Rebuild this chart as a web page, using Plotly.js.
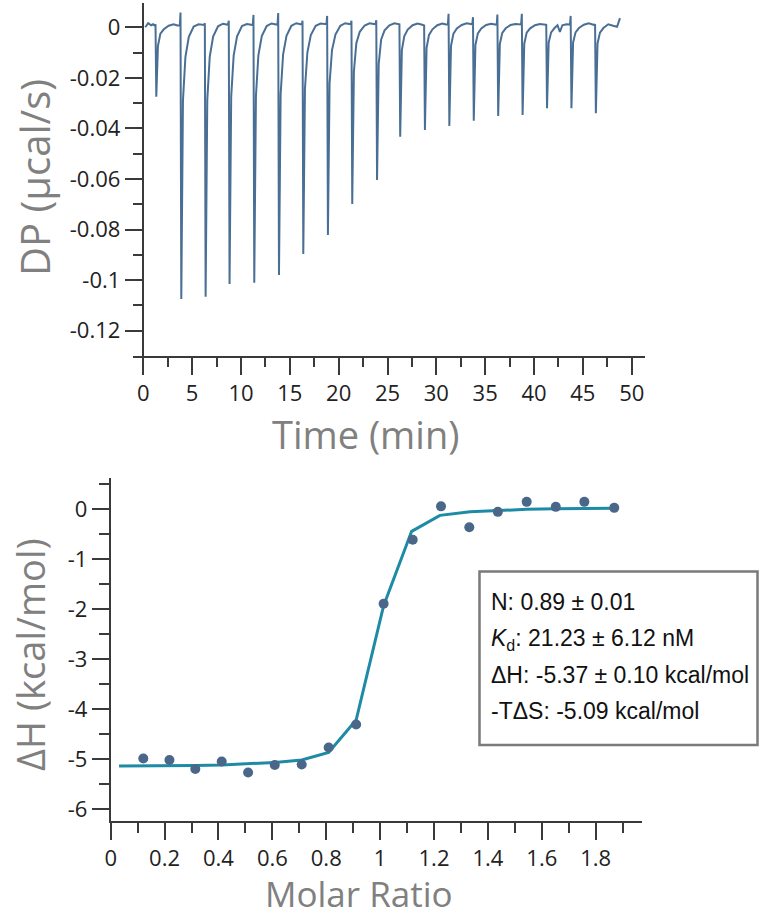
<!DOCTYPE html>
<html><head><meta charset="utf-8">
<script src="https://cdn.plot.ly/plotly-3.0.1.min.js"></script>
<style>html,body{margin:0;padding:0;background:#fff}#chart{width:770px;height:918px}</style>
</head><body><div id="chart"></div>
<script>
// ---- Thermogram (raw DP trace) ----
const dpTime = [
  0.2, 0.5, 0.8, 1.0,
  1.18, 1.25, 1.33, 1.5, 1.75, 2.1, 2.6, 3.1, 3.5,
  3.74, 3.81, 3.89, 4.06, 4.31, 4.66, 5.16, 5.66, 6.06,
  6.23, 6.30, 6.38, 6.55, 6.80, 7.15, 7.65, 8.15, 8.55,
  8.68, 8.75, 8.83, 9.00, 9.25, 9.60, 10.10, 10.60, 11.00,
  11.21, 11.28, 11.36, 11.53, 11.78, 12.13, 12.63, 13.13, 13.53,
  13.74, 13.81, 13.89, 14.06, 14.31, 14.66, 15.16, 15.66, 16.06,
  16.23, 16.30, 16.38, 16.55, 16.80, 17.15, 17.65, 18.15, 18.55,
  18.75, 18.82, 18.90, 19.07, 19.32, 19.67, 20.17, 20.67, 21.07,
  21.24, 21.31, 21.39, 21.56, 21.81, 22.16, 22.66, 23.16, 23.56,
  23.78, 23.85, 23.93, 24.10, 24.35, 24.70, 25.20, 25.70, 26.10,
  26.15, 26.22, 26.30, 26.47, 26.72, 27.07, 27.57, 28.07, 28.47,
  28.68, 28.75, 28.83, 29.00, 29.25, 29.60, 30.10, 30.60, 31.00,
  31.18, 31.25, 31.33, 31.50, 31.75, 32.10, 32.60, 33.10, 33.50,
  33.68, 33.75, 33.83, 34.00, 34.25, 34.60, 35.10, 35.60, 36.00,
  36.18, 36.25, 36.33, 36.50, 36.75, 37.10, 37.60, 38.10, 38.50,
  38.68, 38.75, 38.83, 39.00, 39.25, 39.60, 40.10, 40.60, 41.00,
  41.18, 41.25, 41.33, 41.50, 41.75, 42.10, 42.40, 42.65, 42.90, 43.30,
  43.68, 43.75, 43.83, 44.00, 44.25, 44.60, 45.10, 45.60, 46.00,
  46.18, 46.25, 46.33, 46.50, 46.75, 47.10, 47.60, 48.10, 48.50, 48.80
];
const dpValue = [
  0.0000, 0.0016, 0.0008, 0.0012,
  0.0006, 0.0012, -0.0275, -0.0074, -0.0025, -0.0008, 0.0006, 0.0012, 0.0007,
  0.0008, 0.0058, -0.1075, -0.0290, -0.0118, -0.0038, 0.0003, 0.0012, 0.0008,
  0.0009, 0.0016, -0.1066, -0.0288, -0.0117, -0.0037, 0.0004, 0.0014, 0.0009,
  0.0010, 0.0026, -0.1015, -0.0274, -0.0112, -0.0036, 0.0005, 0.0013, 0.0010,
  0.0009, 0.0049, -0.1010, -0.0273, -0.0111, -0.0035, 0.0005, 0.0015, 0.0010,
  0.0010, 0.0056, -0.0980, -0.0265, -0.0108, -0.0034, 0.0006, 0.0016, 0.0011,
  0.0011, 0.0026, -0.0897, -0.0242, -0.0099, -0.0031, 0.0006, 0.0015, 0.0011,
  0.0012, 0.0045, -0.0822, -0.0222, -0.0090, -0.0029, 0.0006, 0.0016, 0.0011,
  0.0012, 0.0026, -0.0699, -0.0175, -0.0063, -0.0018, 0.0007, 0.0016, 0.0012,
  0.0012, 0.0028, -0.0604, -0.0145, -0.0048, -0.0012, 0.0008, 0.0016, 0.0012,
  0.0010, 0.0012, -0.0433, -0.0090, -0.0035, -0.0009, 0.0008, 0.0015, 0.0011,
  0.0010, 0.0007, -0.0406, -0.0081, -0.0030, -0.0008, 0.0008, 0.0015, 0.0011,
  0.0011, 0.0053, -0.0390, -0.0074, -0.0025, -0.0005, 0.0009, 0.0016, 0.0012,
  0.0012, 0.0040, -0.0370, -0.0070, -0.0024, -0.0005, 0.0009, 0.0014, 0.0010,
  0.0010, 0.0050, -0.0351, -0.0066, -0.0022, -0.0004, 0.0009, 0.0013, 0.0010,
  0.0011, 0.0053, -0.0347, -0.0065, -0.0021, -0.0004, 0.0008, 0.0013, 0.0010,
  0.0010, 0.0012, -0.0320, -0.0060, -0.0020, -0.0003, 0.0008, -0.0018, 0.0008, 0.0012,
  0.0011, 0.0045, -0.0320, -0.0060, -0.0020, -0.0003, 0.0010, 0.0016, 0.0010,
  0.0009, 0.0012, -0.0340, -0.0064, -0.0021, -0.0003, 0.0012, 0.0006, 0.0002, 0.0036
];

// ---- Integrated heats and fit ----
const molarRatio = [0.121, 0.218, 0.314, 0.412, 0.510, 0.609, 0.709, 0.809, 0.911, 1.013,
                    1.121, 1.226, 1.331, 1.437, 1.544, 1.652, 1.758, 1.869];
const heatValue  = [-4.99, -5.02, -5.20, -5.05, -5.27, -5.12, -5.11, -4.77, -4.31, -1.89,
                    -0.61, 0.06, -0.36, -0.05, 0.15, 0.05, 0.15, 0.03];
const fitRatio = [0.031, 0.121, 0.218, 0.314, 0.412, 0.510, 0.609, 0.709, 0.809, 0.911, 1.013,
                  1.117, 1.222, 1.334, 1.437, 1.544, 1.652, 1.758, 1.869];
const fitHeat  = [-5.14, -5.14, -5.14, -5.13, -5.12, -5.10, -5.07, -5.02, -4.87, -4.22, -1.93,
                  -0.44, -0.12, -0.05, -0.02, 0.00, 0.01, 0.02, 0.02];

// ---- Ticks ----
const timeTicks = [0, 5, 10, 15, 20, 25, 30, 35, 40, 45, 50];
const timeTickText = ['0', '5', '10', '15', '20', '25', '30', '35', '40', '45', '50'];
const dpTicks = [0, -0.02, -0.04, -0.06, -0.08, -0.1, -0.12];
const dpTickText = ['0', '-0.02', '-0.04', '-0.06', '-0.08', '-0.1', '-0.12'];
const ratioTicks = [0, 0.2, 0.4, 0.6, 0.8, 1, 1.2, 1.4, 1.6, 1.8];
const ratioTickText = ['0', '0.2', '0.4', '0.6', '0.8', '1', '1.2', '1.4', '1.6', '1.8'];
const heatTicks = [0, -1, -2, -3, -4, -5, -6];
const heatTickText = ['0', '-1', '-2', '-3', '-4', '-5', '-6'];

// ---- Texts ----
const titleTime = 'Time (min)';
const titleDP = 'DP (µcal/s)';
const titleRatio = 'Molar Ratio';
const titleDH = 'ΔH (kcal/mol)';
const fitLines = ['N: 0.89 ± 0.01',
                  '<i>K</i><sub>d</sub>: 21.23 ± 6.12 nM',
                  'ΔH: -5.37 ± 0.10 kcal/mol',
                  '-TΔS: -5.09 kcal/mol'];

const W = 770, H = 918;
const fx = p => p / W, fy = p => 1 - p / H;
const AX = '#3a3a3a';
const tickFont = {family: 'Open Sans, Noto Sans, sans-serif', size: 22, color: '#222'};
const titleFont = {family: 'Open Sans, Noto Sans, sans-serif', size: 38, color: '#808080'};

function axisBase(extra) {
  return Object.assign({
    showgrid: false, zeroline: false, showline: true, linecolor: AX, linewidth: 2,
    ticks: 'outside', ticklen: 17, tickwidth: 2, tickcolor: AX,
    tickfont: tickFont, automargin: false, fixedrange: true, tickmode: 'array'
  }, extra);
}

const traces = [
  {x: dpTime, y: dpValue, xaxis: 'x', yaxis: 'y', type: 'scatter', mode: 'lines',
   line: {color: '#4a6f95', width: 2}, hoverinfo: 'skip'},
  {x: fitRatio, y: fitHeat, xaxis: 'x2', yaxis: 'y2', type: 'scatter', mode: 'lines',
   line: {color: '#1e8ba6', width: 3}, hoverinfo: 'skip'},
  {x: molarRatio, y: heatValue, xaxis: 'x2', yaxis: 'y2', type: 'scatter', mode: 'markers',
   marker: {color: '#4a6789', size: 10}, hoverinfo: 'skip'}
];

const annotations = [
  {text: titleTime, x: fx(365), y: fy(434), textangle: 0},
  {text: titleDP, x: fx(34), y: fy(178), textangle: -90, font: Object.assign({}, titleFont, {size: 40})},
  {text: titleRatio, x: fx(359), y: 0, yanchor: 'bottom', textangle: 0, borderpad: 0,
   font: Object.assign({}, titleFont, {size: 35})},
  {text: titleDH, x: fx(30), y: fy(655), textangle: -90}
].map(a => Object.assign({xref: 'paper', yref: 'paper', xanchor: 'center', yanchor: 'middle',
  showarrow: false, font: titleFont}, a));

const lineY = [602, 639, 675, 711];
fitLines.forEach((t, i) => annotations.push({
  text: t, xref: 'paper', yref: 'paper', x: fx(489), y: fy(lineY[i]),
  xanchor: 'left', yanchor: 'middle', showarrow: false,
  font: {family: 'Liberation Sans, Arial, sans-serif', size: 23, color: '#111'}
}));

const layout = {
  width: W, height: H, margin: {l: 0, r: 0, t: 0, b: 0},
  paper_bgcolor: '#fff', plot_bgcolor: '#fff', showlegend: false,
  xaxis: axisBase({domain: [fx(133), fx(645)], range: [-1.054, 51.36], anchor: 'y',
    tickvals: timeTicks, ticktext: timeTickText,
    minor: {tickmode: 'linear', tick0: 0, dtick: 2.5, ticks: 'outside', ticklen: 9, tickwidth: 2, tickcolor: AX}}),
  yaxis: axisBase({domain: [fy(355.7), fy(3)], range: [-0.1299, 0.0096], anchor: 'free', position: fx(142.8),
    tickvals: dpTicks, ticktext: dpTickText,
    minor: {tickmode: 'linear', tick0: 0, dtick: 0.01, ticks: 'outside', ticklen: 9, tickwidth: 2, tickcolor: AX}}),
  xaxis2: axisBase({domain: [fx(110.7), fx(642)], range: [0, 1.972], anchor: 'y2',
    tickvals: ratioTicks, ticktext: ratioTickText,
    minor: {tickmode: 'linear', tick0: 0, dtick: 0.1, ticks: 'outside', ticklen: 10, tickwidth: 2, tickcolor: AX}}),
  yaxis2: axisBase({domain: [fy(820.7), fy(477.9)], range: [-6.2366, 0.63], anchor: 'x2',
    tickvals: heatTicks, ticktext: heatTickText,
    minor: {tickmode: 'linear', tick0: 0, dtick: 0.5, ticks: 'outside', ticklen: 10, tickwidth: 2, tickcolor: AX}}),
  shapes: [
    {type: 'rect', xref: 'paper', yref: 'paper', x0: fx(479.5), x1: fx(757.5), y0: fy(745), y1: fy(571.5),
     line: {color: '#7a7a7a', width: 2.5}, fillcolor: 'rgba(255,255,255,0)'}
  ],
  annotations: annotations
};

Plotly.newPlot('chart', traces, layout, {displayModeBar: false, staticPlot: true});
</script>
</body></html>
